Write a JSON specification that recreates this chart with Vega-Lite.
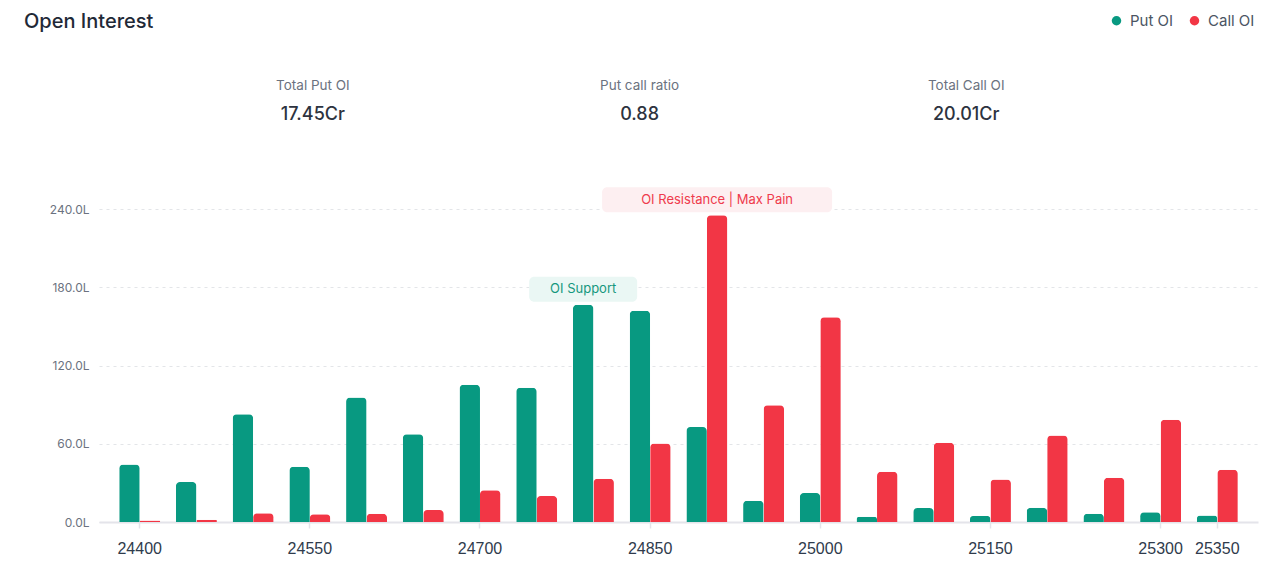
{
  "$schema": "https://vega.github.io/schema/vega-lite/v6.json",
  "background": "white",
  "padding": {"left": 24, "top": 11, "right": 10, "bottom": 10},
  "config": {"font": "Inter", "view": {"stroke": null}},
  "spacing": 58,
  "vconcat": [
    {
      "title": {"text": "Open Interest", "anchor": "start", "frame": "group", "fontSize": 20, "fontWeight": 500, "color": "#1f2937", "font": "Inter", "offset": 39.5, "dx": -75},
      "width": 1159,
      "height": 58,
      "data": {"values": [
        {"stat": "Total Put OI", "figure": "17.45Cr"},
        {"stat": "Put call ratio", "figure": "0.88"},
        {"stat": "Total Call OI", "figure": "20.01Cr"}
      ]},
      "transform": [{"fold": ["stat", "figure"], "as": ["row", "txt"]}],
      "encoding": {
        "x": {"field": "stat", "type": "nominal", "axis": null,
              "scale": {"type": "point", "domain": ["Total Put OI", "Put call ratio", "Total Call OI"], "padding": 0.774, "align": 0.423}},
        "y": {"field": "row", "type": "nominal", "axis": null,
              "scale": {"type": "point", "domain": ["stat", "figure"], "padding": 0.5}}
      },
      "layer": [
        {"transform": [{"filter": "datum.row == 'stat'"}],
         "mark": {"type": "text", "fontSize": 13.5, "color": "#6b7280", "baseline": "middle"},
         "encoding": {"text": {"field": "txt"}}},
        {"transform": [{"filter": "datum.row == 'figure'"}],
         "mark": {"type": "text", "fontSize": 18, "fontWeight": 500, "color": "#2d3340", "baseline": "middle"},
         "encoding": {"text": {"field": "txt"}}}
      ]
    },
    {
      "width": 1159,
      "height": 313,
      "encoding": {
        "x": {"field": "strike", "type": "ordinal",
              "scale": {"paddingInner": 0.2775, "paddingOuter": 0.356},
              "axis": {"title": null, "labelAngle": 0, "values": [24400, 24550, 24700, 24850, 25000, 25150, 25300, 25350],
                       "labelFont": "Liberation Sans", "labelFontSize": 16, "labelColor": "#2f3b4c", "labelPadding": 12,
                       "domainColor": "#e4e4ea", "domainWidth": 2, "tickColor": "#e4e4ea", "tickSize": 6, "tickWidth": 1.5, "grid": false}}
      },
      "layer": [
        {
          "data": {"values": [
            {"strike": 24400, "series": "Put OI", "oi": 44.0}, {"strike": 24400, "series": "Call OI", "oi": 1.1},
            {"strike": 24450, "series": "Put OI", "oi": 30.6}, {"strike": 24450, "series": "Call OI", "oi": 1.8},
            {"strike": 24500, "series": "Put OI", "oi": 82.7}, {"strike": 24500, "series": "Call OI", "oi": 6.7},
            {"strike": 24550, "series": "Put OI", "oi": 42.4}, {"strike": 24550, "series": "Call OI", "oi": 5.9},
            {"strike": 24600, "series": "Put OI", "oi": 95.5}, {"strike": 24600, "series": "Call OI", "oi": 6.4},
            {"strike": 24650, "series": "Put OI", "oi": 67.2}, {"strike": 24650, "series": "Call OI", "oi": 9.2},
            {"strike": 24700, "series": "Put OI", "oi": 105.2}, {"strike": 24700, "series": "Call OI", "oi": 24.3},
            {"strike": 24750, "series": "Put OI", "oi": 102.9}, {"strike": 24750, "series": "Call OI", "oi": 19.9},
            {"strike": 24800, "series": "Put OI", "oi": 166.6}, {"strike": 24800, "series": "Call OI", "oi": 33.2},
            {"strike": 24850, "series": "Put OI", "oi": 162.0}, {"strike": 24850, "series": "Call OI", "oi": 60.2},
            {"strike": 24900, "series": "Put OI", "oi": 72.8}, {"strike": 24900, "series": "Call OI", "oi": 235.3},
            {"strike": 24950, "series": "Put OI", "oi": 16.3}, {"strike": 24950, "series": "Call OI", "oi": 89.6},
            {"strike": 25000, "series": "Put OI", "oi": 22.2}, {"strike": 25000, "series": "Call OI", "oi": 157.0},
            {"strike": 25050, "series": "Put OI", "oi": 4.1}, {"strike": 25050, "series": "Call OI", "oi": 38.6},
            {"strike": 25100, "series": "Put OI", "oi": 10.7}, {"strike": 25100, "series": "Call OI", "oi": 60.8},
            {"strike": 25150, "series": "Put OI", "oi": 4.6}, {"strike": 25150, "series": "Call OI", "oi": 32.5},
            {"strike": 25200, "series": "Put OI", "oi": 11.0}, {"strike": 25200, "series": "Call OI", "oi": 66.4},
            {"strike": 25250, "series": "Put OI", "oi": 6.4}, {"strike": 25250, "series": "Call OI", "oi": 34.0},
            {"strike": 25300, "series": "Put OI", "oi": 7.4}, {"strike": 25300, "series": "Call OI", "oi": 78.4},
            {"strike": 25350, "series": "Put OI", "oi": 4.9}, {"strike": 25350, "series": "Call OI", "oi": 40.1}
          ]},
          "mark": {"type": "bar", "cornerRadiusTopLeft": 4, "cornerRadiusTopRight": 4},
          "encoding": {
            "xOffset": {"field": "series", "type": "nominal", "scale": {"domain": ["Put OI", "Call OI"]}},
            "y": {"field": "oi", "type": "quantitative",
                  "scale": {"domain": [0, 240], "nice": false},
                  "axis": {"title": null, "values": [0, 60, 120, 180, 240], "labelExpr": "format(datum.value, '.1f') + 'L'",
                           "domain": false, "ticks": false, "labelFontSize": 12, "labelColor": "#6b7280", "labelPadding": 10,
                           "gridColor": "#e3e5e8", "gridDash": [3, 4], "gridWidth": 1}},
            "color": {"field": "series", "type": "nominal",
                      "scale": {"domain": ["Put OI", "Call OI"], "range": ["#089981", "#F23645"]},
                      "legend": {"orient": "none", "legendX": 1010, "legendY": -58, "direction": "horizontal", "title": null,
                                 "symbolType": "circle", "symbolSize": 90, "symbolStrokeWidth": 0, "labelFontSize": 15,
                                 "labelColor": "#4b5563", "columnPadding": 13, "labelOffset": 6}}
          }
        },
        {
          "data": {"values": [
            {"strike": 24800, "series": "Put OI", "oi": 166.6, "label": "OI Support"},
            {"strike": 24900, "series": "Call OI", "oi": 235.3, "label": "OI Resistance | Max Pain"}
          ]},
          "encoding": {
            "xOffset": {"field": "series", "type": "nominal"},
            "y": {"field": "oi", "type": "quantitative"}
          },
          "layer": [
            {"mark": {"type": "bar", "yOffset": -3, "y2Offset": -28, "cornerRadius": 5},
             "encoding": {
               "y2": {"field": "oi"},
               "size": {"condition": {"test": "datum.label == 'OI Support'", "value": 108}, "value": 230},
               "fill": {"condition": {"test": "datum.label == 'OI Support'", "value": "#eaf7f4"}, "value": "#fdeff1"}
             }},
            {"mark": {"type": "text", "dy": -15.5, "fontSize": 13, "baseline": "middle"},
             "encoding": {
               "text": {"field": "label"},
               "color": {"condition": {"test": "datum.label == 'OI Support'", "value": "#16977e"}, "value": "#ef3a4c"}
             }}
          ]
        }
      ]
    }
  ]
}
